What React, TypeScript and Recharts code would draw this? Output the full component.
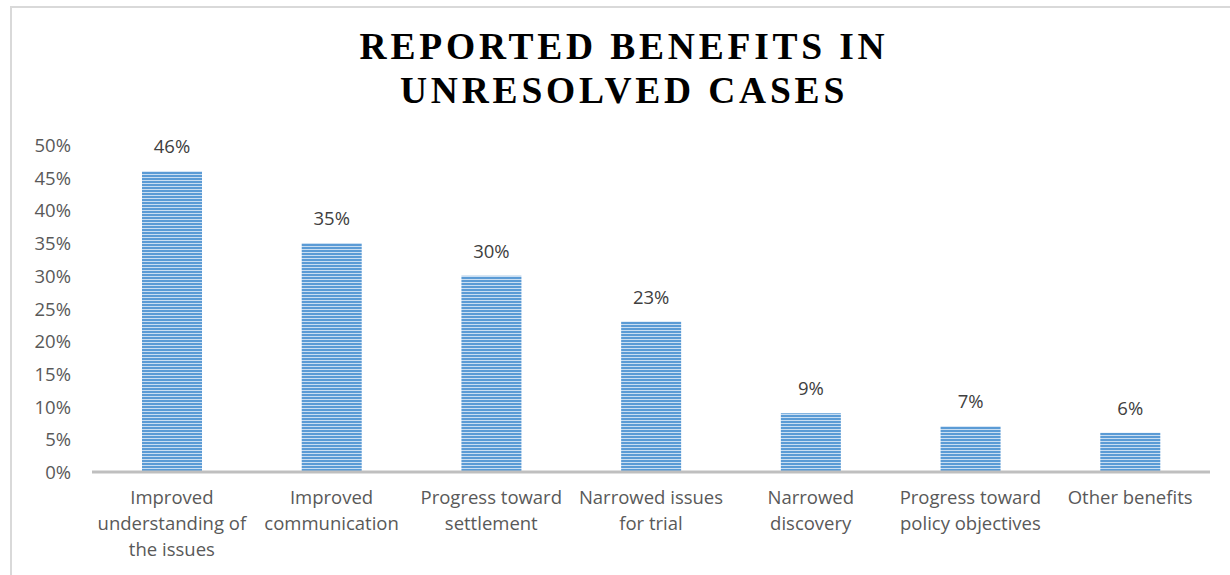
import { BarChart, Bar, XAxis, YAxis, LabelList } from 'recharts';

const categories = [
  'Improved\nunderstanding of\nthe issues',
  'Improved\ncommunication',
  'Progress toward\nsettlement',
  'Narrowed issues\nfor trial',
  'Narrowed\ndiscovery',
  'Progress toward\npolicy objectives',
  'Other benefits',
];
const values = [46, 35, 30, 23, 9, 7, 6];
const yTicks = [0, 5, 10, 15, 20, 25, 30, 35, 40, 45, 50];

const data = categories.map((name, i) => ({ name, value: values[i] }));

const FONT = '"Open Sans", sans-serif';
const GREY = '#595959';

function XTick({ x, y, payload }: any) {
  const lines = String(payload.value).split('\n');
  return (
    <text x={x} y={y} textAnchor="middle" fill={GREY} fontSize={18.5} fontFamily={FONT}>
      {lines.map((l, i) => (
        <tspan key={i} x={x} y={y + 24 + i * 26}>
          {l}
        </tspan>
      ))}
    </text>
  );
}

function YTick({ y, payload }: any) {
  return (
    <text x={71} y={y + 7} textAnchor="end" fill={GREY} fontSize={18.5} fontFamily={FONT}>
      {payload.value}%
    </text>
  );
}

export default function App() {
  return (
    <div style={{ position: 'absolute', left: 0, top: 0, width: 1230, height: 575, background: '#fff', overflow: 'hidden' }}>
      <div
        style={{
          position: 'absolute',
          left: 10,
          top: 6,
          width: 1230,
          height: 575,
          borderTop: '2px solid #d9d9d9',
          borderLeft: '2px solid #d9d9d9',
        }}
      />
      <div
        style={{
          position: 'absolute',
          left: 0,
          top: 25,
          width: 1248,
          textAlign: 'center',
          fontFamily: '"Liberation Serif", serif',
          fontWeight: 'bold',
          fontSize: 37.5,
          letterSpacing: 3.8,
          lineHeight: '44px',
          color: '#000',
        }}
      >
        REPORTED BENEFITS IN
        <br />
        UNRESOLVED CASES
      </div>
      <BarChart
        width={1230}
        height={575}
        data={data}
        margin={{ top: 145, right: 20, left: 0, bottom: 0 }}
        barCategoryGap={0}
        style={{ position: 'absolute', left: 0, top: 0 }}
      >
        <defs>
          <pattern id="stripes" width={8} height={3} patternUnits="userSpaceOnUse" y={1}>
            <rect x={0} y={0} width={8} height={3} fill="#c9def2" />
            <rect x={0} y={0} width={8} height={2} fill="#5b9bd5" />
          </pattern>
        </defs>
        <XAxis
          dataKey="name"
          height={103}
          interval={0}
          tickLine={false}
          axisLine={{ stroke: '#bfbfbf', strokeWidth: 3 }}
          tick={<XTick />}
        />
        <YAxis
          width={92}
          domain={[0, 50]}
          ticks={yTicks}
          axisLine={false}
          tickLine={false}
          tick={<YTick />}
        />
        <Bar dataKey="value" fill="url(#stripes)" barSize={60} isAnimationActive={false}>
          <LabelList
            dataKey="value"
            position="top"
            offset={18}
            formatter={(v: any) => `${v}%`}
            style={{ fill: '#404040', fontSize: 18.5, fontFamily: FONT }}
          />
        </Bar>
      </BarChart>
    </div>
  );
}
